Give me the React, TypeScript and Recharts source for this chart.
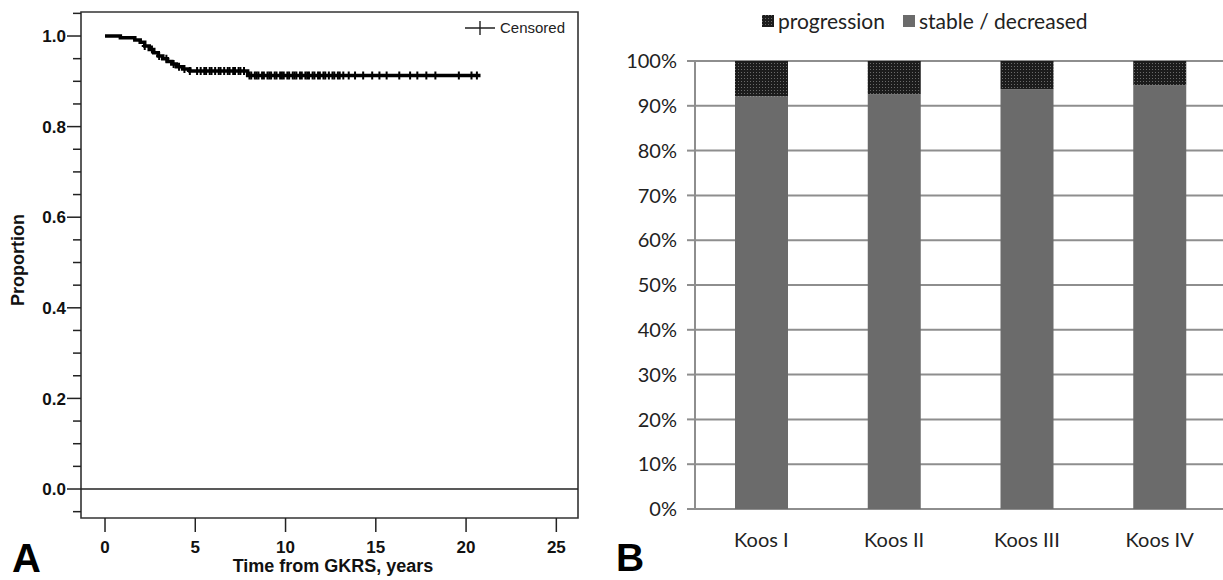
import React from 'react';
import {
  ComposedChart, Line, Scatter, XAxis, YAxis, ReferenceLine, ReferenceArea,
  BarChart, Bar, CartesianGrid,
} from 'recharts';

// ---- panel A: Kaplan-Meier curve, steps
const kmTime = [0, 0.85, 1.65, 1.95, 2.2, 2.45, 2.7, 2.95, 3.2, 3.45, 3.7, 3.95, 4.3, 4.7, 7.9, 20.8];
const kmSurv = [1.0, 0.996, 0.991, 0.986, 0.978, 0.970, 0.963, 0.956, 0.950, 0.944, 0.938, 0.932, 0.927, 0.923, 0.913, 0.913];

// censored observations (years)
const censorTimes = [
  2.2, 2.6, 3.0, 3.4, 3.8, 4.1, 4.4, 4.7,
  5.1, 5.3, 5.5, 5.6, 5.8, 5.9, 6.1, 6.3, 6.4, 6.6, 6.8, 6.9, 7.1, 7.2, 7.4, 7.5, 7.7,
  8.0, 8.1, 8.3, 8.4, 8.5, 8.7, 8.8, 9.0, 9.1, 9.2, 9.4, 9.5, 9.7, 9.8, 9.9,
  10.1, 10.2, 10.4, 10.5, 10.6, 10.8, 10.9, 11.1, 11.2, 11.3, 11.5, 11.6, 11.8, 11.9,
  12.1, 12.2, 12.4, 12.6, 12.7, 12.9, 13.0, 13.2, 13.5, 13.85, 14.3, 14.8, 15.2, 15.6,
  16.3, 16.9, 17.3, 17.8, 18.3, 19.6, 20.3, 20.6,
];

const xTicksA = [0, 5, 10, 15, 20, 25];
const yTicksA = [-0.05, 0, 0.05, 0.1, 0.15, 0.2, 0.25, 0.3, 0.35, 0.4, 0.45, 0.5, 0.55, 0.6, 0.65, 0.7, 0.75, 0.8, 0.85, 0.9, 0.95, 1.0, 1.05];
const xDomA: [number, number] = [-1.33, 26.2];
const yDomA: [number, number] = [-0.064, 1.053];

// ---- panel B: stacked percentages per Koos grade
const koosGroups = ['Koos I', 'Koos II', 'Koos III', 'Koos IV'];
const stablePct = [92.1, 92.6, 93.7, 94.6];
const progressionPct = [7.9, 7.4, 6.3, 5.4];
const yTicksB = [0, 10, 20, 30, 40, 50, 60, 70, 80, 90, 100];
const groupEdges = [0, 1, 2, 3, 4];

const kmData = kmTime.map((t, i) => ({ t, s: kmSurv[i] }));

const survAt = (t: number) => {
  let s = kmSurv[0];
  for (let i = 0; i < kmTime.length; i++) if (kmTime[i] <= t) s = kmSurv[i];
  return s;
};
const censorData = censorTimes.map((t) => ({ t, s: survAt(t) }));

const barData = koosGroups.map((name, i) => ({
  name,
  stable: stablePct[i],
  progression: progressionPct[i],
}));

const fontA = '"Liberation Sans", Arial, sans-serif';
const fontB = 'Lato, "Open Sans", sans-serif';

const CensorMark = (p: any) => (
  <path
    d={`M${p.cx - 3},${p.cy}h6M${p.cx},${p.cy - 4}v8`}
    stroke="#000"
    strokeWidth={2}
    fill="none"
  />
);

const YTickA = (p: any) => {
  const v = p.payload.value;
  const major = Math.abs(v * 5 - Math.round(v * 5)) < 1e-6;
  return (
    <g>
      <line x1={p.x - (major ? 14 : 8)} x2={p.x} y1={p.y} y2={p.y} stroke="#222" strokeWidth={1.5} />
      {major && (
        <text x={p.x - 15} y={p.y} dy="0.36em" textAnchor="end" fontFamily={fontA} fontWeight="bold" fontSize={17} fill="#111">
          {v.toFixed(1)}
        </text>
      )}
    </g>
  );
};

const PanelA = () => (
  <ComposedChart width={600} height={580} margin={{ top: 12, right: 22, bottom: 22, left: 0 }}>
    <XAxis
      type="number"
      dataKey="t"
      domain={xDomA}
      allowDataOverflow
      ticks={xTicksA}
      height={40}
      axisLine={false}
      tickSize={14}
      tickMargin={9}
      tickLine={{ stroke: '#222', strokeWidth: 1.5 }}
      tick={{ fontFamily: fontA, fontWeight: 'bold', fontSize: 17, fill: '#111' }}
    />
    <YAxis
      type="number"
      dataKey="s"
      domain={yDomA}
      allowDataOverflow
      ticks={yTicksA}
      width={81}
      axisLine={false}
      tickLine={false}
      tickSize={0}
      tickMargin={0}
      interval={0}
      tick={YTickA}
    />
    <ReferenceArea x1={xDomA[0]} x2={xDomA[1]} y1={yDomA[0]} y2={yDomA[1]} fill="none" stroke="#333" strokeWidth={1.6} />
    <ReferenceLine y={0} stroke="#222" strokeWidth={1.5} />
    <Line data={kmData} dataKey="s" type="stepAfter" stroke="#000" strokeWidth={3.5} dot={false} isAnimationActive={false} />
    <Scatter data={censorData} dataKey="s" shape={CensorMark} isAnimationActive={false} />
  </ComposedChart>
);

const PanelB = () => (
  <BarChart width={640} height={580} data={barData} margin={{ top: 61, right: 14, bottom: 30, left: 0 }}>
    <defs>
      <pattern id="stipple" width="3" height="3" patternUnits="userSpaceOnUse">
        <rect width="3" height="3" fill="#1c1c1c" />
        <rect width="1" height="1" fill="#6a6a6a" />
      </pattern>
    </defs>
    <CartesianGrid vertical={false} stroke="#8e8e8e" strokeWidth={2} />
    {/* boundary ticks between groups */}
    <XAxis
      xAxisId={0}
      type="number"
      domain={[0, 4]}
      ticks={groupEdges}
      interval={0}
      height={1}
      axisLine={false}
      tick={false}
      tickSize={8}
      tickLine={{ stroke: '#8e8e8e', strokeWidth: 2 }}
    />
    <XAxis
      xAxisId="cat"
      dataKey="name"
      height={40}
      axisLine={false}
      tickLine={false}
      tickSize={0}
      tickMargin={23}
      interval={0}
      tick={{ fontFamily: fontB, fontSize: 20, fill: '#222' }}
    />
    <YAxis
      domain={[0, 100]}
      ticks={yTicksB}
      width={95}
      interval={0}
      tickFormatter={(v: number) => `${v}%`}
      axisLine={{ stroke: '#8e8e8e', strokeWidth: 2 }}
      tickLine={{ stroke: '#8e8e8e', strokeWidth: 2 }}
      tickSize={8}
      tickMargin={10}
      tick={{ fontFamily: fontB, fontSize: 20, fill: '#222' }}
    />
    <Bar xAxisId="cat" dataKey="stable" stackId="a" fill="#6b6b6b" barSize={53} isAnimationActive={false} />
    <Bar xAxisId="cat" dataKey="progression" stackId="a" fill="url(#stipple)" barSize={53} isAnimationActive={false} />
  </BarChart>
);

const abs = (left: number, top: number, extra: React.CSSProperties = {}): React.CSSProperties => ({
  position: 'absolute', left, top, whiteSpace: 'nowrap', ...extra,
});

export default function App() {
  return (
    <div style={{ position: 'fixed', left: 0, top: 0, width: 1223, height: 580, overflow: 'hidden', background: '#fff' }}>
      <div style={abs(0, 0)}><PanelA /></div>
      <div style={abs(600, 0)}><PanelB /></div>

      {/* panel A texts */}
      <div style={abs(465, 19, { fontFamily: fontA, fontSize: 15, color: '#222', display: 'flex', alignItems: 'center' })}>
        <svg width={32} height={16} style={{ marginRight: 3 }}>
          <path d="M0,8h30M15,1v14" stroke="#222" strokeWidth={1.4} />
        </svg>
        Censored
      </div>
      <div style={abs(18, 260, { fontFamily: fontA, fontWeight: 'bold', fontSize: 18, color: '#111', transform: 'translate(-50%, -50%) rotate(-90deg)' })}>
        Proportion
      </div>
      <div style={abs(333, 566, { fontFamily: fontA, fontWeight: 'bold', fontSize: 18, color: '#111', transform: 'translate(-50%, -50%)' })}>
        Time from GKRS, years
      </div>
      <div style={abs(12, 541, { fontFamily: fontA, fontWeight: 'bold', fontSize: 40, color: '#000', lineHeight: '34px' })}>A</div>

      {/* panel B texts */}
      <div style={abs(762, 7, { fontFamily: fontB, fontSize: 21, color: '#222', display: 'flex', alignItems: 'center', lineHeight: '28px' })}>
        <svg width={12} height={12} style={{ marginRight: 4 }}>
          <defs>
            <pattern id="stippleLegend" width="3" height="3" patternUnits="userSpaceOnUse">
              <rect width="3" height="3" fill="#1c1c1c" />
              <rect width="1" height="1" fill="#6a6a6a" />
            </pattern>
          </defs>
          <rect width={12} height={12} fill="url(#stippleLegend)" />
        </svg>
        progression
        <svg width={12} height={12} style={{ marginLeft: 18, marginRight: 4 }}>
          <rect width={12} height={12} fill="#6b6b6b" />
        </svg>
        stable / decreased
      </div>
      <div style={abs(616, 541, { fontFamily: fontA, fontWeight: 'bold', fontSize: 39, color: '#000', lineHeight: '34px' })}>B</div>
    </div>
  );
}
